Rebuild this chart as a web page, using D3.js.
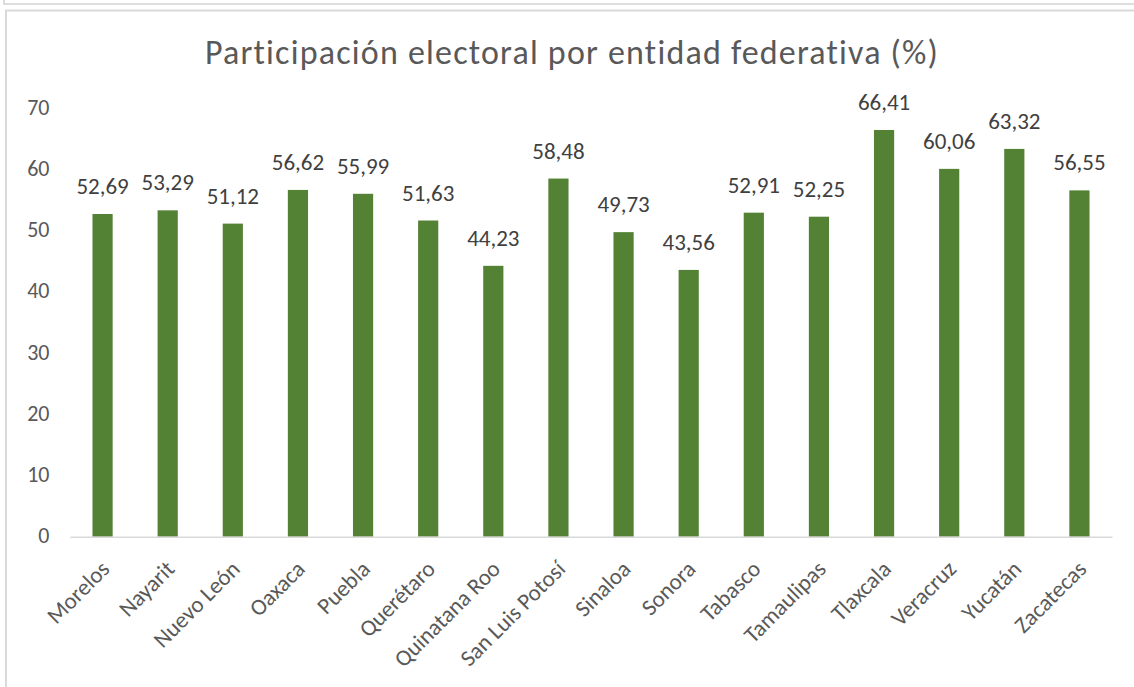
<!DOCTYPE html>
<html>
<head>
<meta charset="utf-8">
<script src="https://cdn.jsdelivr.net/npm/d3@7"></script>
<style>
  body { margin: 0; background: #fff; }
  svg { display: block; font-family: Carlito, Lato, "DejaVu Sans", sans-serif; }
</style>
</head>
<body>
<div id="chart"></div>
<script>
// data
const states = ["Morelos", "Nayarit", "Nuevo León", "Oaxaca", "Puebla", "Querétaro",
  "Quinatana Roo", "San Luis Potosí", "Sinaloa", "Sonora", "Tabasco", "Tamaulipas",
  "Tlaxcala", "Veracruz", "Yucatán", "Zacatecas"]
const turnout = [52.69, 53.29, 51.12, 56.62, 55.99, 51.63, 44.23, 58.48, 49.73, 43.56,
  52.91, 52.25, 66.41, 60.06, 63.32, 56.55]
const yTicks = [0, 10, 20, 30, 40, 50, 60, 70]
const title = "Participación electoral por entidad federativa (%)"

const width = 1134, height = 687

const svg = d3.select("#chart")
  .append("svg")
  .attr("width", width)
  .attr("height", height)

// frame lines (window edge + chart area border)
svg.append("path")
  .attr("d", "M4,0 V4 H" + width)
  .attr("fill", "none")
  .attr("stroke", "#d4d4d4")
  .attr("stroke-width", 1.6)
svg.append("path")
  .attr("d", "M6," + height + " V10.5 H" + width)
  .attr("fill", "none")
  .attr("stroke", "#d9d9d9")
  .attr("stroke-width", 2)

// scales
const x = d3.scaleBand()
  .domain(states)
  .range([70, 1112])
  .paddingInner(0.69)
  .paddingOuter(0.345)

const y = d3.scaleLinear()
  .domain([0, 70])
  .range([536.7, 108])

// title
svg.append("text")
  .attr("x", 572)
  .attr("y", 63.5)
  .attr("text-anchor", "middle")
  .attr("fill", "#595959")
  .style("font-size", "34px")
  .style("letter-spacing", "1.2px")
  .text(title)

// y axis labels (no gridlines in the original)
svg.append("g")
  .selectAll("text")
  .data(yTicks)
  .enter()
  .append("text")
  .attr("x", 49.5)
  .attr("y", d => y(d))
  .attr("dy", "0.3em")
  .attr("text-anchor", "end")
  .attr("fill", "#595959")
  .style("font-size", "22px")
  .text(d => d)

// bars
svg.append("g")
  .selectAll("rect")
  .data(turnout)
  .enter()
  .append("rect")
  .attr("x", (d, i) => x(states[i]))
  .attr("y", d => y(d))
  .attr("width", x.bandwidth())
  .attr("height", d => y(0) - y(d))
  .attr("fill", "#548235")

// value labels
svg.append("g")
  .selectAll("text")
  .data(turnout)
  .enter()
  .append("text")
  .attr("x", (d, i) => x(states[i]) + x.bandwidth() / 2)
  .attr("y", d => y(d) - 20)
  .attr("text-anchor", "middle")
  .attr("fill", "#404040")
  .style("font-size", "23px")
  .text(d => d.toFixed(2).replace(".", ","))

// baseline
const xAxis = d3.axisBottom(x).tickSize(0).tickFormat("")
const gx = svg.append("g")
  .attr("transform", "translate(0," + y(0) + ")")
  .call(xAxis)
gx.select(".domain")
  .attr("stroke", "#d9d9d9")
  .attr("stroke-width", 1.5)

// rotated category labels
svg.append("g")
  .selectAll("text")
  .data(states)
  .enter()
  .append("text")
  .attr("transform", d => "translate(" + (x(d) + x.bandwidth() / 2 + 3) + ",565) rotate(-45)")
  .attr("dy", "0.33em")
  .attr("text-anchor", "end")
  .attr("fill", "#595959")
  .style("font-size", "23px")
  .text(d => d)
</script>
</body>
</html>
